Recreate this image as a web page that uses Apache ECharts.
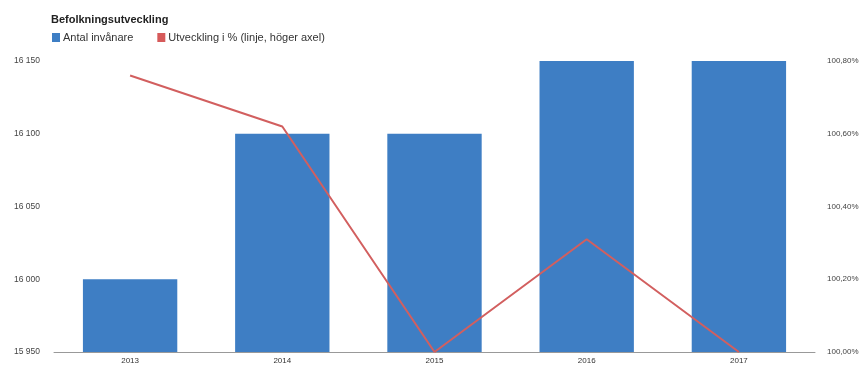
<!DOCTYPE html>
<html>
<head>
<meta charset="utf-8">
<script src="https://cdn.jsdelivr.net/npm/echarts@6/dist/echarts.min.js"></script>
<style>
  html, body { margin: 0; padding: 0; background: #fff; }
  #chart { width: 863px; height: 366px; }
</style>
</head>
<body>
<div id="chart"></div>
<script>
// Population development per year
const years = ['2013', '2014', '2015', '2016', '2017'];
const inhabitants = [16000, 16100, 16100, 16150, 16150];
const changePct = [100.76, 100.62, 100.00, 100.31, 100.00];
const leftTicks = [15950, 16000, 16050, 16100, 16150];
const rightTicks = [100.0, 100.2, 100.4, 100.6, 100.8];

const fmtThousands = v => String(v).replace(/\B(?=(\d{3})+(?!\d))/g, ' ');
const fmtPct = v => v.toFixed(2).replace('.', ',') + '%';

const chart = echarts.init(document.getElementById('chart'));
chart.setOption({
  animation: false,
  textStyle: { fontFamily: 'Liberation Sans, Arial, sans-serif' },
  title: {
    text: 'Befolkningsutveckling',
    left: 46, top: 9,
    textStyle: { fontSize: 11, fontWeight: 'bold', color: '#222' }
  },
  legend: {
    left: 47, top: 27,
    itemWidth: 8, itemHeight: 9, itemGap: 24,
    icon: 'rect',
    textStyle: { fontSize: 11, color: '#333', padding: [0, 0, 0, -2] },
    data: [
      { name: 'Antal invånare', icon: 'rect' },
      { name: 'Utveckling i % (linje, höger axel)', icon: 'rect', itemStyle: { color: '#d65a5a' } }
    ]
  },
  grid: { left: 54, right: 48, top: 61, bottom: 14 },
  xAxis: {
    type: 'category',
    data: years,
    axisLine: { show: true, lineStyle: { color: '#999', width: 1 } },
    axisTick: { show: false },
    axisLabel: { fontSize: 8, color: '#333', margin: 5 }
  },
  yAxis: [
    {
      type: 'value',
      min: leftTicks[0], max: leftTicks[leftTicks.length - 1], interval: 50,
      splitLine: { show: false },
      axisLine: { show: false },
      axisTick: { show: false },
      axisLabel: { fontSize: 8.5, color: '#444', margin: 14, formatter: fmtThousands }
    },
    {
      type: 'value',
      min: rightTicks[0], max: rightTicks[rightTicks.length - 1], interval: 0.2,
      splitLine: { show: false },
      axisLine: { show: false },
      axisTick: { show: false },
      axisLabel: { fontSize: 8, color: '#444', margin: 12, formatter: fmtPct }
    }
  ],
  series: [
    {
      name: 'Antal invånare',
      type: 'bar',
      data: inhabitants,
      barWidth: '62%',
      itemStyle: { color: '#3e7ec4' }
    },
    {
      name: 'Utveckling i % (linje, höger axel)',
      type: 'line',
      yAxisIndex: 1,
      data: changePct,
      symbol: 'none',
      lineStyle: { color: '#d25f5f', width: 2 },
      itemStyle: { color: '#d65a5a' }
    }
  ]
});
</script>
</body>
</html>
